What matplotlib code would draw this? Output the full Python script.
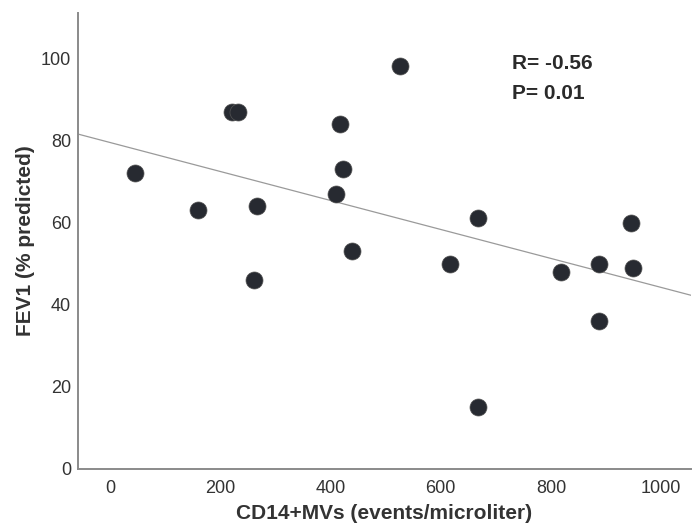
import numpy as np
import matplotlib
matplotlib.use("Agg")
from matplotlib import pyplot as plt

plt.rcParams['font.family'] = ['Liberation Sans', 'DejaVu Sans']

# CD14+ MVs (events/microliter) vs FEV1 (% predicted)
mvs = [45, 160, 221, 232, 267, 261, 417, 422, 410, 439, 526, 668, 617, 818, 887, 949, 945, 887, 668]
fev1 = [72, 63, 87, 87, 64, 46, 84, 73, 67, 53, 98, 61, 50, 48, 50, 49, 60, 36, 15]

# regression line
fit_intercept = 79.5
fit_slope = -0.0353
r_text = "R= -0.56"
p_text = "P= 0.01"

fig = plt.figure(figsize=(6.98, 5.24), dpi=100)
ax = fig.add_axes([0.1117, 0.105, 0.8783, 0.870])

xlim = (-58, 1054)
xs = np.array(xlim)
ax.plot(xs, fit_intercept + fit_slope * xs, color='#9a9a9a', lw=0.9, zorder=1)
ax.scatter(mvs, fev1, s=150, color='#272a31', edgecolors='#555', linewidths=0.5, zorder=2)

ax.set_xlim(*xlim)
ax.set_ylim(0, 111)
ax.set_xticks([0, 200, 400, 600, 800, 1000])
ax.set_yticks([0, 20, 40, 60, 80, 100])
ax.tick_params(axis='x', length=0, labelsize=13, labelcolor='#333333', pad=8)
ax.tick_params(axis='y', length=0, labelsize=13, labelcolor='#333333', pad=5)

for side in ['top', 'right']:
    ax.spines[side].set_visible(False)
for side in ['left', 'bottom']:
    ax.spines[side].set_color('#8a8a8a')
    ax.spines[side].set_linewidth(1.4)

ax.set_xlabel('CD14+MVs (events/microliter)', fontsize=15, fontweight='bold', color='#333333', labelpad=5)
ax.set_ylabel('FEV1 (% predicted)', fontsize=15, fontweight='bold', color='#333333', labelpad=4)

ax.text(730, 98.8, r_text, fontsize=15, fontweight='bold', color='#2a2a2a', va='center')
ax.text(730, 91.5, p_text, fontsize=15, fontweight='bold', color='#2a2a2a', va='center')

fig.savefig('out.png', dpi=100)
